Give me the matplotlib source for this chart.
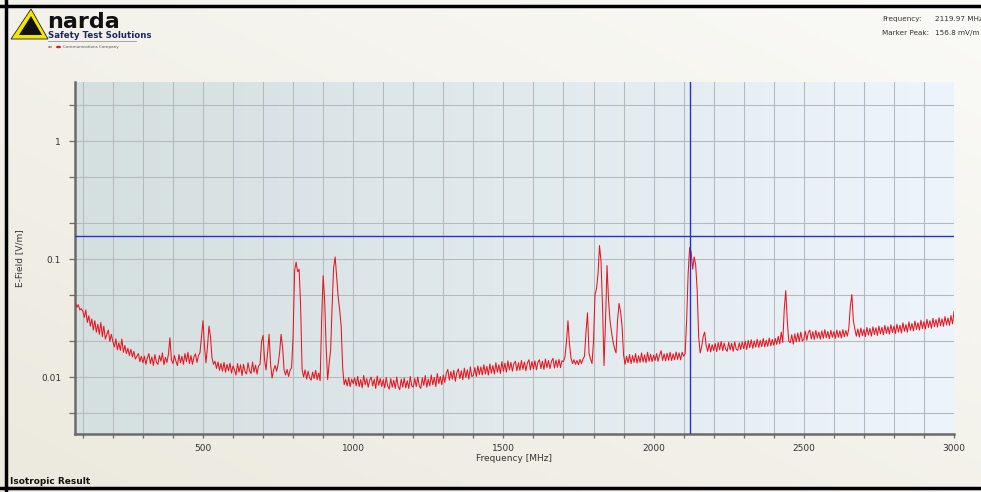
import numpy as np
import matplotlib
matplotlib.use("Agg")
import matplotlib.pyplot as plt
from matplotlib.lines import Line2D
from matplotlib.patches import Polygon, Circle

## spectrum trace (5 MHz steps, 75 .. 3000 MHz)
freq_mhz = np.arange(75, 3001, 5)
efield_vm = [
    0.042, 0.039, 0.041, 0.037, 0.038,
    # 100
    0.036, 0.032, 0.037, 0.029, 0.033, 0.027, 0.031, 0.025, 0.030, 0.024,
    0.028, 0.023, 0.029, 0.022, 0.027, 0.021, 0.023, 0.025, 0.020, 0.023,
    # 200
    0.020, 0.018, 0.021, 0.017, 0.0195, 0.0168, 0.021, 0.0162, 0.0185, 0.0158,
    0.0175, 0.0152, 0.0172, 0.0148, 0.0165, 0.0142, 0.0150, 0.0158, 0.0135, 0.0150,
    # 300
    0.0132, 0.0150, 0.0128, 0.0146, 0.0158, 0.0130, 0.0148, 0.0125, 0.0155, 0.0133,
    0.0128, 0.0152, 0.0136, 0.0160, 0.0127, 0.0147, 0.0133, 0.0156, 0.0215, 0.0140,
    # 400
    0.0130, 0.0152, 0.0136, 0.0125, 0.0155, 0.0132, 0.0150, 0.0128, 0.0158, 0.0135,
    0.0162, 0.0130, 0.0152, 0.0128, 0.0148, 0.0157, 0.0133, 0.0152, 0.0160, 0.0220,
    # 500
    0.0300, 0.0180, 0.0132, 0.0180, 0.0270, 0.0220, 0.0145, 0.0128, 0.0136, 0.0118,
    0.0134, 0.0114, 0.0130, 0.0112, 0.0133, 0.0110, 0.0128, 0.0113, 0.0131, 0.0108,
    # 600
    0.0124, 0.0115, 0.0104, 0.0130, 0.0110, 0.0127, 0.0103, 0.0128, 0.0111, 0.0106,
    0.0132, 0.0113, 0.0107, 0.0134, 0.0110, 0.0126, 0.0106, 0.0124, 0.0128, 0.0200,
    # 700
    0.0225, 0.0140, 0.0115, 0.0160, 0.0230, 0.0130, 0.0098, 0.0115, 0.0125, 0.0112,
    0.0128, 0.0160, 0.0230, 0.0180, 0.0115, 0.0104, 0.0116, 0.0101, 0.0114, 0.0120,
    # 800
    0.0220, 0.0800, 0.0940, 0.0780, 0.0820, 0.0400, 0.0115, 0.0100, 0.0115, 0.0096,
    0.0112, 0.0098, 0.0094, 0.0110, 0.0097, 0.0114, 0.0095, 0.0108, 0.0093, 0.0300,
    # 900
    0.0720, 0.0450, 0.0180, 0.0095, 0.0130, 0.0170, 0.0400, 0.0850, 0.1040, 0.0700,
    0.0480, 0.0370, 0.0270, 0.0120, 0.0086, 0.0096, 0.0084, 0.0099, 0.0083, 0.0096,
    # 1000
    0.0088, 0.0098, 0.0084, 0.0101, 0.0083, 0.0095, 0.0081, 0.0103, 0.0086, 0.0097,
    0.0082, 0.0094, 0.0100, 0.0084, 0.0096, 0.0080, 0.0102, 0.0085, 0.0097, 0.0083,
    # 1100
    0.0095, 0.0081, 0.0099, 0.0084, 0.0079, 0.0097, 0.0082, 0.0094, 0.0080, 0.0100,
    0.0083, 0.0078, 0.0096, 0.0082, 0.0098, 0.0081, 0.0093, 0.0080, 0.0101, 0.0084,
    # 1200
    0.0082, 0.0097, 0.0083, 0.0100, 0.0084, 0.0080, 0.0098, 0.0085, 0.0103, 0.0082,
    0.0096, 0.0084, 0.0104, 0.0086, 0.0099, 0.0083, 0.0107, 0.0088, 0.0101, 0.0086,
    # 1300
    0.0104, 0.0090, 0.0108, 0.0116, 0.0094, 0.0111, 0.0096, 0.0114, 0.0092, 0.0109,
    0.0117, 0.0097, 0.0113, 0.0095, 0.0119, 0.0099, 0.0115, 0.0096, 0.0122, 0.0101,
    # 1400
    0.0103, 0.0120, 0.0101, 0.0124, 0.0105, 0.0122, 0.0104, 0.0127, 0.0106, 0.0123,
    0.0104, 0.0129, 0.0108, 0.0125, 0.0106, 0.0132, 0.0110, 0.0127, 0.0107, 0.0135,
    # 1500
    0.0112, 0.0131, 0.0110, 0.0137, 0.0115, 0.0133, 0.0112, 0.0130, 0.0136, 0.0113,
    0.0132, 0.0114, 0.0138, 0.0116, 0.0134, 0.0113, 0.0132, 0.0140, 0.0115, 0.0135,
    # 1600
    0.0117, 0.0137, 0.0115, 0.0134, 0.0140, 0.0118, 0.0136, 0.0116, 0.0142, 0.0120,
    0.0138, 0.0118, 0.0136, 0.0144, 0.0119, 0.0139, 0.0121, 0.0141, 0.0120, 0.0137,
    # 1700
    0.0135, 0.0148, 0.0200, 0.0300, 0.0190, 0.0145, 0.0130, 0.0140, 0.0128, 0.0138,
    0.0127, 0.0141, 0.0130, 0.0142, 0.0150, 0.0240, 0.0350, 0.0160, 0.0142, 0.0130,
    # 1800
    0.0200, 0.0500, 0.0560, 0.0750, 0.1300, 0.0950, 0.0400, 0.0125, 0.0300, 0.0880,
    0.0450, 0.0300, 0.0240, 0.0200, 0.0175, 0.0160, 0.0300, 0.0420, 0.0360, 0.0270,
    # 1900
    0.0155, 0.0128, 0.0150, 0.0132, 0.0155, 0.0130, 0.0152, 0.0133, 0.0158, 0.0131,
    0.0151, 0.0133, 0.0160, 0.0134, 0.0154, 0.0132, 0.0162, 0.0136, 0.0156, 0.0135,
    # 2000
    0.0153, 0.0138, 0.0158, 0.0136, 0.0154, 0.0167, 0.0138, 0.0157, 0.0137, 0.0159,
    0.0139, 0.0162, 0.0138, 0.0157, 0.0140, 0.0163, 0.0141, 0.0160, 0.0140, 0.0162,
    # 2100
    0.0150, 0.0158, 0.0300, 0.0750, 0.1250, 0.1150, 0.0820, 0.1040, 0.0900, 0.0550,
    0.0220, 0.0160, 0.0180, 0.0220, 0.0240, 0.0185, 0.0165, 0.0192, 0.0163, 0.0188,
    # 2200
    0.0168, 0.0192, 0.0164, 0.0196, 0.0170, 0.0200, 0.0167, 0.0194, 0.0172, 0.0165,
    0.0197, 0.0170, 0.0193, 0.0165, 0.0199, 0.0172, 0.0168, 0.0195, 0.0171, 0.0198,
    # 2300
    0.0174, 0.0201, 0.0171, 0.0204, 0.0177, 0.0207, 0.0175, 0.0202, 0.0179, 0.0209,
    0.0178, 0.0204, 0.0181, 0.0212, 0.0180, 0.0205, 0.0182, 0.0214, 0.0184, 0.0208,
    # 2400
    0.0186, 0.0212, 0.0189, 0.0221, 0.0191, 0.0240, 0.0196, 0.0380, 0.0540, 0.0300,
    0.0200, 0.0196, 0.0228, 0.0190, 0.0232, 0.0198, 0.0236, 0.0200, 0.0240, 0.0202,
    # 2500
    0.0208, 0.0245, 0.0205, 0.0238, 0.0250, 0.0210, 0.0242, 0.0208, 0.0248, 0.0214,
    0.0240, 0.0209, 0.0246, 0.0213, 0.0252, 0.0215, 0.0243, 0.0211, 0.0249, 0.0217,
    # 2600
    0.0242, 0.0213, 0.0250, 0.0217, 0.0246, 0.0214, 0.0252, 0.0219, 0.0248, 0.0222,
    0.0260, 0.0400, 0.0500, 0.0300, 0.0255, 0.0222, 0.0255, 0.0218, 0.0260, 0.0224,
    # 2700
    0.0252, 0.0220, 0.0263, 0.0227, 0.0258, 0.0222, 0.0266, 0.0229, 0.0261, 0.0225,
    0.0270, 0.0232, 0.0264, 0.0228, 0.0274, 0.0234, 0.0267, 0.0231, 0.0277, 0.0238,
    # 2800
    0.0270, 0.0234, 0.0280, 0.0240, 0.0274, 0.0236, 0.0288, 0.0244, 0.0278, 0.0240,
    0.0293, 0.0249, 0.0284, 0.0246, 0.0298, 0.0253, 0.0288, 0.0250, 0.0303, 0.0257,
    # 2900
    0.0295, 0.0255, 0.0308, 0.0263, 0.0300, 0.0259, 0.0314, 0.0268, 0.0306, 0.0265,
    0.0318, 0.0272, 0.0311, 0.0269, 0.0325, 0.0276, 0.0316, 0.0274, 0.0332, 0.0282,
    0.0360,
]
assert len(efield_vm) == len(freq_mhz)

## marker
marker_freq = 2119.97
marker_peak = 0.1568

x_ticks = [500, 1000, 1500, 2000, 2500, 3000]
y_ticks = [1, 0.1, 0.01]
y_tick_labels = ["1", "0.1", "0.01"]
y_grid = [0.005, 0.01, 0.02, 0.05, 0.1, 0.2, 0.5, 1, 2]
x_grid = list(range(100, 3001, 100))

W, H = 981, 492
fig = plt.figure(figsize=(W / 100, H / 100), dpi=100)

## window background (beige, lighter to the lower right)
bg = fig.add_axes([0, 0, 1, 1], zorder=-10)
bg.axis("off")
gx, gy = np.meshgrid(np.linspace(0, 1, 200), np.linspace(0, 1, 100))
t = np.clip((gx + (1 - gy)) / 2, 0, 1)
c0 = np.array([236, 233, 222]) / 255
c1 = np.array([250, 250, 247]) / 255
bg.imshow(c0 + (c1 - c0) * t[..., None], extent=[0, 1, 0, 1], aspect="auto")
bg.set_xlim(0, 1)
bg.set_ylim(0, 1)

# black frame of the window (left, top, bottom)
fig.add_artist(Line2D([6 / W, 6 / W], [0, 1], color="black", lw=2.5))
fig.add_artist(Line2D([0, 1], [1 - 5.5 / H, 1 - 5.5 / H], color="black", lw=2.5))
fig.add_artist(Line2D([0, 1], [1 - 488 / H, 1 - 488 / H], color="black", lw=2.5))

## plot area
L, R, T, B = 75, 954, 82, 434
ax = fig.add_axes([L / W, 1 - B / H, (R - L) / W, (B - T) / H])
ax.set_yscale("log")
ax.set_xlim(74, 3000)
ax.set_ylim(10 ** -2.483, 10 ** 0.5)

grad = np.linspace(0, 1, 256)[None, :]
p0 = np.array([212, 223, 223]) / 255
p1 = np.array([238, 244, 251]) / 255
ax.imshow(p0 + (p1 - p0) * grad[..., None], extent=[0, 1, 0, 1],
          transform=ax.transAxes, aspect="auto", zorder=0)

for gxv in x_grid:
    ax.axvline(gxv, color="#b5b9bd", lw=0.75, zorder=1)
for gyv in y_grid:
    ax.axhline(gyv, color="#b5b9bd", lw=0.75, zorder=1)

ax.plot(freq_mhz, efield_vm, color="#e8141e", lw=0.75, zorder=3)
ax.axhline(marker_peak, color="#2633c8", lw=1.0, zorder=4)
ax.axvline(marker_freq, color="#2633c8", lw=1.0, zorder=4)

for s in ["top", "right"]:
    ax.spines[s].set_visible(False)
for s in ["left", "bottom"]:
    ax.spines[s].set_color("#6b6b6b")
    ax.spines[s].set_linewidth(1.8)

ax.set_xticks(x_grid, minor=True)
ax.set_xticks(x_ticks)
ax.set_xticklabels([str(v) for v in x_ticks])
ax.set_yticks(y_grid, minor=True)
ax.set_yticks(y_ticks)
ax.set_yticklabels(y_tick_labels)
ax.tick_params(axis="both", which="both", direction="out", color="#6b6b6b",
               labelsize=6.5, labelcolor="#333333")
ax.tick_params(axis="x", which="both", length=3, width=0.9, pad=4)
ax.tick_params(axis="y", which="both", length=4, width=0.9, pad=6)
ax.yaxis.set_minor_formatter(matplotlib.ticker.NullFormatter())

ax.set_xlabel("Frequency [MHz]", fontsize=6.5, color="#333333", labelpad=1)
ax.set_ylabel("E-Field [V/m]", fontsize=6.5, color="#333333", labelpad=12)

## header: marker readout
fig.text(882 / W, 1 - 19 / H, "Frequency:", fontsize=5.2, color="#333333", va="center")
fig.text(935 / W, 1 - 19 / H, "2119.97 MHz", fontsize=5.2, color="#333333", va="center")
fig.text(882 / W, 1 - 33 / H, "Marker Peak:", fontsize=5.2, color="#333333", va="center")
fig.text(935 / W, 1 - 33 / H, "156.8 mV/m", fontsize=5.2, color="#333333", va="center")

## narda logo
fig.add_artist(Polygon([(11 / W, 1 - 39 / H), (31 / W, 1 - 9 / H), (48 / W, 1 - 39 / H)],
                       closed=True, facecolor="#f3e600", edgecolor="#222222", lw=0.6))
fig.add_artist(Polygon([(19 / W, 1 - 35 / H), (31 / W, 1 - 16 / H), (42 / W, 1 - 35 / H)],
                       closed=True, facecolor="#111111", edgecolor="none"))
fig.text(47 / W, 1 - 22 / H, "narda", fontsize=16, fontweight="bold", color="#111111",
         va="center")
fig.text(48 / W, 1 - 36 / H, "Safety Test Solutions", fontsize=6.2, fontweight="bold",
         color="#1d2a5c", va="center")
fig.add_artist(Line2D([48 / W, 136 / W], [1 - 41 / H, 1 - 41 / H], color="#9a9a9a", lw=0.6))
fig.add_artist(Circle((58.5 / W, 1 - 47 / H), 2.5 / W, facecolor="#d42020", edgecolor="none"))
fig.text(48 / W, 1 - 47 / H, "an", fontsize=3, color="#555555", va="center")
fig.text(63 / W, 1 - 47 / H, "Communications Company", fontsize=3, color="#555555",
         va="center")

fig.text(10 / W, 1 - 481 / H, "Isotropic Result", fontsize=6.5, fontweight="bold",
         color="#111111", va="center")

plt.savefig("out.png", dpi=100)
